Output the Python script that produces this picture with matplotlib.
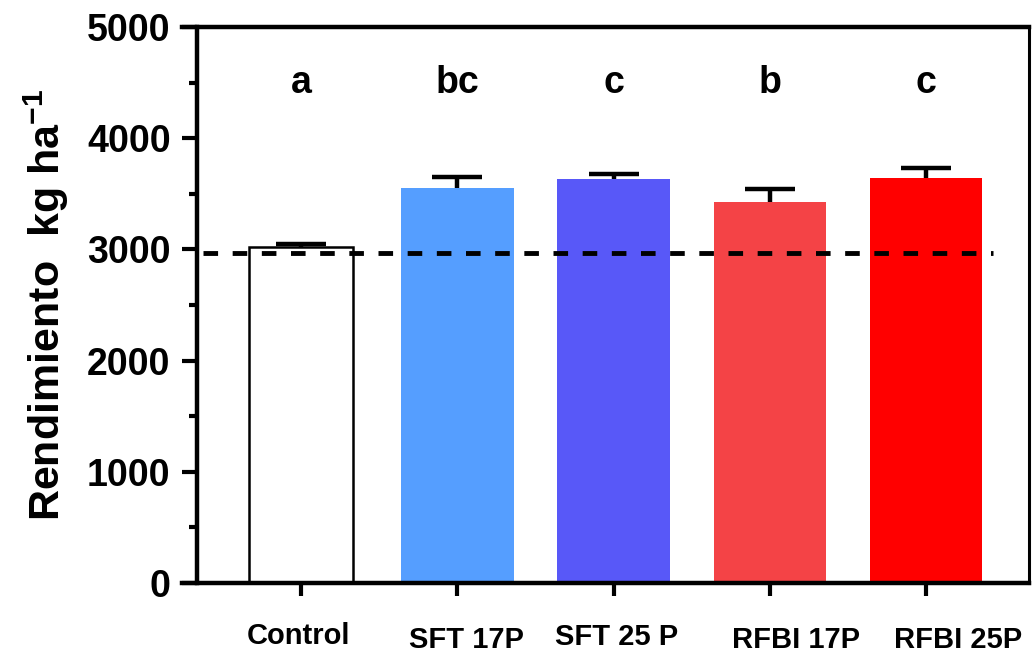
import numpy as np
import matplotlib
matplotlib.use("Agg")
import matplotlib.pyplot as plt
import matplotlib.transforms as mtransforms

plt.rcParams['font.family'] = ['Liberation Sans', 'DejaVu Sans']
plt.rcParams['mathtext.default'] = 'regular'

# data
groups = ['Control', 'SFT 17P', 'SFT 25 P', 'RFBI 17P', 'RFBI 25P']
yield_mean = [3020, 3555, 3633, 3425, 3642]
yield_err = [30, 100, 45, 118, 90]
letters = ['a', 'bc', 'c', 'b', 'c']
ref_level = 2970

colors = ['white', '#559EFF', '#5858F8', '#F44346', '#FF0000']
widths = [0.66, 0.72, 0.72, 0.72, 0.72]
# hand placed label shifts in the original (points)
label_dx = [-2, 6.5, 2, 19, 23]
label_dy = [3, 0, 2, 0, 0]

fig = plt.figure(figsize=(10.33, 6.57), dpi=100)
ax = fig.add_axes([182/1033, 1-583/657, 847/1033, 556/657])

x = np.arange(len(groups))

# error bars behind the bars so only the upper half shows
ax.errorbar(x, yield_mean, yerr=yield_err, fmt='none', ecolor='black',
            elinewidth=3.2, capsize=18, capthick=3.2, zorder=1)
bars = ax.bar(x, yield_mean, width=widths, color=colors, zorder=2)
bars[0].set_edgecolor('black')
bars[0].set_linewidth(1.8)

ax.hlines(ref_level, -0.627, 4.43, colors='black', linestyles=(0, (3, 3)),
          linewidth=3.5, zorder=3)

for xi, lab in zip(x, letters):
    ax.text(xi, 4500, lab, ha='center', va='center', fontsize=27, fontweight='bold')

ax.set_xlim(-0.762, 4.659)
ax.set_ylim(0, 5000)

# left spine sits slightly inside the frame, like Prism
ax.spines['left'].set_position(('data', -0.666))
for s in ['top', 'right', 'bottom', 'left']:
    ax.spines[s].set_linewidth(3.2)
ax.spines['right'].set_linewidth(2.2)

ax.set_yticks(np.arange(0, 5001, 1000))
ax.set_yticks(np.arange(500, 5000, 1000), minor=True)
ax.tick_params(axis='y', which='major', length=11, width=3, labelsize=27, pad=8)
ax.tick_params(axis='y', which='minor', length=6, width=3)
for t in ax.get_yticklabels():
    t.set_fontweight('bold')

ax.set_xticks(x)
ax.set_xticklabels(groups, fontsize=21, fontweight='bold')
ax.tick_params(axis='x', length=9, width=3, pad=22)
for t, dx, dy in zip(ax.get_xticklabels(), label_dx, label_dy):
    t.set_transform(t.get_transform() + mtransforms.ScaledTranslation(dx/72, dy/72, fig.dpi_scale_trans))

ax.set_ylabel('Rendimiento  kg ha$^{-1}$', fontsize=31, fontweight='bold')
ax.yaxis.set_label_coords(-0.131, 0.5)

plt.savefig('out.png', dpi=100)
